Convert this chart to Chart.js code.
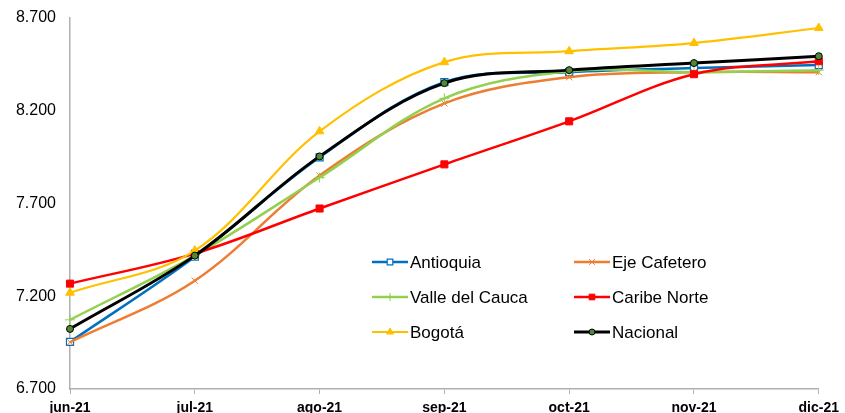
<!DOCTYPE html>
<html>
<head>
<meta charset="utf-8">
<script src="https://cdn.jsdelivr.net/npm/chart.js@4"></script>
<style>
html,body{margin:0;padding:0;background:#fff;}
#wrap{width:845px;height:413px;position:relative;}
</style>
</head>
<body>
<div id="wrap"><canvas id="c" width="845" height="413"></canvas></div>
<script>
const categories = ['jun-21','jul-21','ago-21','sep-21','oct-21','nov-21','dic-21'];
const seriesNames = ['Antioquia','Eje Cafetero','Valle del Cauca','Caribe Norte','Bogotá','Nacional'];
const antioquia   = [6954, 7413, 7949, 8354, 8408, 8430, 8446];
const ejeCafetero = [6952, 7284, 7851, 8240, 8381, 8408, 8408];
const valle       = [7073, 7419, 7840, 8267, 8413, 8408, 8419];
const caribeNorte = [7268, 7430, 7673, 7911, 8143, 8397, 8467];
const bogota      = [7219, 7446, 8089, 8462, 8521, 8565, 8646];
const nacional    = [7024, 7419, 7954, 8349, 8419, 8457, 8494];
const yTickValues = [6700, 7200, 7700, 8200, 8700];
const yTickLabels = ['6.700', '7.200', '7.700', '8.200', '8.700'];

const styles = [
  {color:'#0070C0', style:'rect', fill:'#FFFFFF', radius:5, bw:1.2, width:2.5},
  {color:'#ED7D31', style:'crossRot', fill:'#ED7D31', radius:4.5, bw:1, width:2.5},
  {color:'#92D050', style:'cross', fill:'#92D050', radius:5, bw:1, width:2.5},
  {color:'#FF0000', style:'rect', fill:'#FF0000', radius:5, bw:1, width:2.5},
  {color:'#FFC000', style:'triangle', fill:'#FFC000', radius:5, bw:1, width:2.2},
  {color:'#000000', style:'circle', fill:'#4F8A32', radius:3.5, bw:1, width:3}
];
const values = [antioquia, ejeCafetero, valle, caribeNorte, bogota, nacional];

const datasets = seriesNames.map((n,i)=>({
  label:n,
  data:values[i],
  borderColor:styles[i].color,
  backgroundColor:styles[i].fill,
  borderWidth:styles[i].width,
  pointStyle:styles[i].style,
  pointRadius:styles[i].radius,
  pointBorderWidth:styles[i].bw,
  pointBorderColor:styles[i].color,
  pointBackgroundColor:styles[i].fill,
  tension:0.35,
  order: seriesNames.length - i,
  clip:false
}));

const legendPlugin = {
  id:'customLegend',
  afterDraw(chart){
    const ctx = chart.ctx;
    const cols = [372, 574];
    const rows = [262, 297, 332];
    ctx.save();
    ctx.font = '17px "Liberation Sans", Arial, sans-serif';
    ctx.textBaseline = 'middle';
    seriesNames.forEach((n,i)=>{
      const x = cols[i%2], y = rows[Math.floor(i/2)];
      const s = styles[i];
      ctx.strokeStyle = s.color;
      ctx.lineWidth = s.width;
      ctx.beginPath(); ctx.moveTo(x,y); ctx.lineTo(x+36,y); ctx.stroke();
      ctx.fillStyle = s.fill;
      ctx.strokeStyle = s.color;
      ctx.lineWidth = s.bw;
      Chart.helpers.drawPoint(ctx, {pointStyle:s.style, radius: s.style==='circle'?3:4, borderWidth:s.bw, rotation:0}, x+18, y);
      ctx.fillStyle = '#000';
      ctx.fillText(n, x+38, y+1);
    });
    ctx.restore();
  }
};

new Chart(document.getElementById('c'), {
  type:'line',
  data:{labels:categories, datasets},
  options:{
    responsive:false,
    animation:false,
    devicePixelRatio:1,
    layout:{padding:{top:18,right:25,left:0,bottom:0}},
    plugins:{legend:{display:false}, tooltip:{enabled:false}},
    scales:{
      x:{
        offset:false,
        grid:{display:true, drawOnChartArea:false, color:'#B0B0B0', tickLength:5, lineWidth:1},
        border:{display:true, color:'#B0B0B0', width:1.5},
        ticks:{color:'#000', font:{family:'"Liberation Sans", Arial, sans-serif', size:14, weight:'bold'}, padding:6, maxRotation:0, autoSkip:false},
        afterFit(s){ s.height = 24; }
      },
      y:{
        min:6700, max:8700,
        afterBuildTicks(s){ s.ticks = yTickValues.map(v=>({value:v})); },
        grid:{display:false},
        border:{display:true, color:'#B0B0B0', width:1.5},
        ticks:{color:'#000', font:{family:'"Liberation Sans", Arial, sans-serif', size:16}, padding:6,
          callback:(v)=>{const k=yTickValues.indexOf(v); return k>=0?yTickLabels[k]:'';}},
        afterFit(s){ s.width = 70; }
      }
    }
  },
  plugins:[legendPlugin]
});
</script>
</body>
</html>
